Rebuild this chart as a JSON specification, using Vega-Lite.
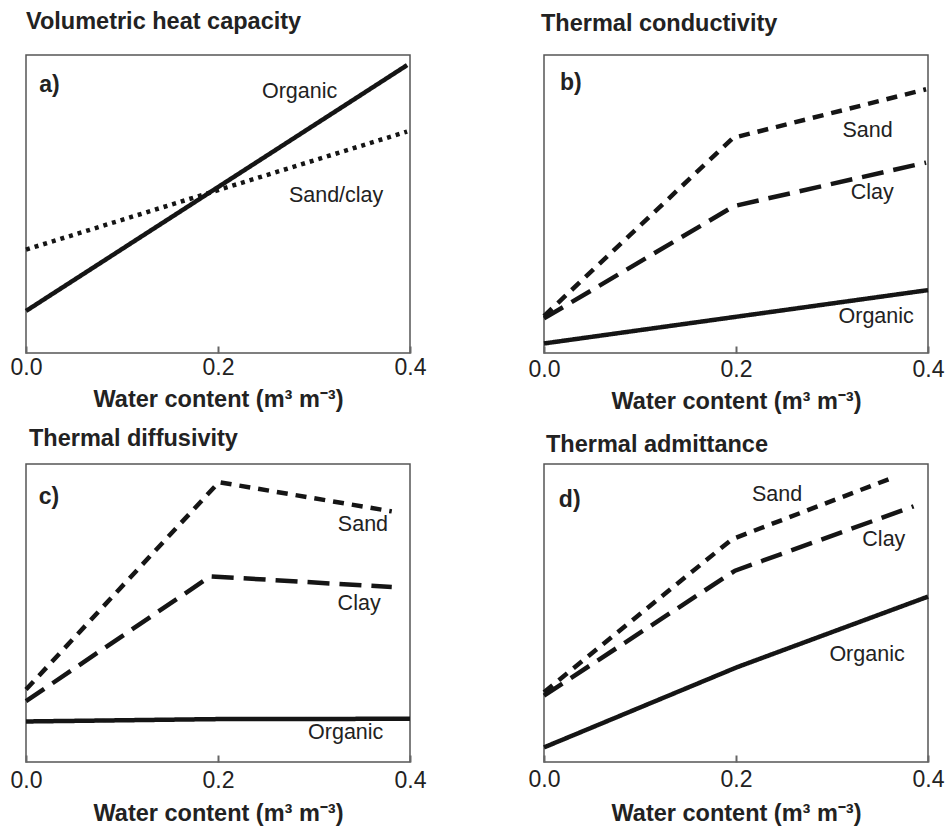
{
  "$schema": "https://vega.github.io/schema/vega-lite/v6.json",
  "background": "white",
  "padding": {"left": 9, "top": 8, "right": 0, "bottom": 0},
  "datasets": {
    "lines": [
      {"panel": "a", "soil": "Organic", "w": 0, "v": 14.1},
      {"panel": "a", "soil": "Organic", "w": 0.397, "v": 96.6},
      {"panel": "a", "soil": "Sand/clay", "w": 0, "v": 34.7},
      {"panel": "a", "soil": "Sand/clay", "w": 0.397, "v": 74.3},
      {"panel": "b", "soil": "Sand", "w": 0, "v": 12.4},
      {"panel": "b", "soil": "Sand", "w": 0.197, "v": 72.2},
      {"panel": "b", "soil": "Sand", "w": 0.398, "v": 88.5},
      {"panel": "b", "soil": "Clay", "w": 0, "v": 11.6},
      {"panel": "b", "soil": "Clay", "w": 0.198, "v": 49.3},
      {"panel": "b", "soil": "Clay", "w": 0.398, "v": 63.9},
      {"panel": "b", "soil": "Organic", "w": 0, "v": 3.2},
      {"panel": "b", "soil": "Organic", "w": 0.4, "v": 21.1},
      {"panel": "c", "soil": "Sand", "w": 0, "v": 24.3},
      {"panel": "c", "soil": "Sand", "w": 0.201, "v": 93.9},
      {"panel": "c", "soil": "Sand", "w": 0.381, "v": 84.1},
      {"panel": "c", "soil": "Clay", "w": 0, "v": 20.4},
      {"panel": "c", "soil": "Clay", "w": 0.192, "v": 62.3},
      {"panel": "c", "soil": "Clay", "w": 0.381, "v": 58.7},
      {"panel": "c", "soil": "Organic", "w": 0, "v": 13.6},
      {"panel": "c", "soil": "Organic", "w": 0.2, "v": 14.4},
      {"panel": "c", "soil": "Organic", "w": 0.4, "v": 14.5},
      {"panel": "d", "soil": "Sand", "w": 0, "v": 23.4},
      {"panel": "d", "soil": "Sand", "w": 0.196, "v": 74.8},
      {"panel": "d", "soil": "Sand", "w": 0.364, "v": 95.5},
      {"panel": "d", "soil": "Clay", "w": 0, "v": 22.3},
      {"panel": "d", "soil": "Clay", "w": 0.199, "v": 64.2},
      {"panel": "d", "soil": "Clay", "w": 0.385, "v": 85.8},
      {"panel": "d", "soil": "Organic", "w": 0, "v": 4.9},
      {"panel": "d", "soil": "Organic", "w": 0.201, "v": 31.8},
      {"panel": "d", "soil": "Organic", "w": 0.4, "v": 55.5}
    ],
    "labels": [
      {"panel": "a", "kind": "curve", "label": "Organic", "w": 0.285, "v": 87.6},
      {"panel": "a", "kind": "curve", "label": "Sand/clay", "w": 0.323, "v": 52.7},
      {"panel": "a", "kind": "letter", "label": "a)", "w": 0.0245, "v": 90},
      {"panel": "b", "kind": "curve", "label": "Sand", "w": 0.337, "v": 74.5},
      {"panel": "b", "kind": "curve", "label": "Clay", "w": 0.342, "v": 53.8},
      {"panel": "b", "kind": "curve", "label": "Organic", "w": 0.346, "v": 12.1},
      {"panel": "b", "kind": "letter", "label": "b)", "w": 0.028, "v": 90.5},
      {"panel": "c", "kind": "curve", "label": "Sand", "w": 0.351, "v": 79.4},
      {"panel": "c", "kind": "curve", "label": "Clay", "w": 0.347, "v": 53},
      {"panel": "c", "kind": "curve", "label": "Organic", "w": 0.333, "v": 9.7},
      {"panel": "c", "kind": "letter", "label": "c)", "w": 0.024, "v": 89},
      {"panel": "d", "kind": "curve", "label": "Sand", "w": 0.2427, "v": 89.6},
      {"panel": "d", "kind": "curve", "label": "Clay", "w": 0.354, "v": 74.6},
      {"panel": "d", "kind": "curve", "label": "Organic", "w": 0.3365, "v": 35.9},
      {"panel": "d", "kind": "letter", "label": "d)", "w": 0.0268, "v": 87.9}
    ]
  },
  "columns": 2,
  "spacing": {"row": 111, "column": 134},
  "bounds": "flush",
  "concat": [
    {
      "width": 384, "height": 298,
      "title": {"text": "Volumetric heat capacity", "offset": 22},
      "layer": [
        {"data": {"name": "lines"}, "transform": [{"filter": "datum.panel === 'a'"}],
         "mark": {"type": "line", "strokeWidth": 4.5, "color": "#151515"},
         "encoding": {
           "x": {"field": "w", "type": "quantitative", "scale": {"domain": [0, 0.4]}, "axis": {"values": [0, 0.2, 0.4], "format": ".1f", "title": "Water content (m³ m⁻³)", "labelPadding": 10, "titlePadding": 8}},
           "y": {"field": "v", "type": "quantitative", "scale": {"domain": [0, 100]}, "axis": null},
           "strokeDash": {"field": "soil", "type": "nominal", "scale": {"domain": ["Organic", "Sand", "Clay", "Sand/clay"], "range": [[1, 0], [11, 8], [22, 10], [4, 5]]}, "legend": null}
         }},
        {"data": {"name": "labels"}, "transform": [{"filter": "datum.panel === 'a' && datum.kind === 'curve'"}],
         "mark": {"type": "text", "fontSize": 21.5, "color": "#222"},
         "encoding": {"x": {"field": "w", "type": "quantitative"}, "y": {"field": "v", "type": "quantitative"}, "text": {"field": "label"}}},
        {"data": {"name": "labels"}, "transform": [{"filter": "datum.panel === 'a' && datum.kind === 'letter'"}],
         "mark": {"type": "text", "fontSize": 23, "fontWeight": "bold", "color": "#222"},
         "encoding": {"x": {"field": "w", "type": "quantitative"}, "y": {"field": "v", "type": "quantitative"}, "text": {"field": "label"}}}
      ]
    },
    {
      "width": 384, "height": 298,
      "title": {"text": "Thermal conductivity", "offset": 20, "dx": -3},
      "layer": [
        {"data": {"name": "lines"}, "transform": [{"filter": "datum.panel === 'b'"}],
         "mark": {"type": "line", "strokeWidth": 4.5, "color": "#151515"},
         "encoding": {
           "x": {"field": "w", "type": "quantitative", "scale": {"domain": [0, 0.4]}, "axis": {"values": [0, 0.2, 0.4], "format": ".1f", "title": "Water content (m³ m⁻³)", "labelPadding": 12, "titlePadding": 8}},
           "y": {"field": "v", "type": "quantitative", "scale": {"domain": [0, 100]}, "axis": null},
           "strokeDash": {"field": "soil", "type": "nominal", "scale": {"domain": ["Organic", "Sand", "Clay", "Sand/clay"], "range": [[1, 0], [11, 8], [22, 10], [4, 5]]}, "legend": null}
         }},
        {"data": {"name": "labels"}, "transform": [{"filter": "datum.panel === 'b' && datum.kind === 'curve'"}],
         "mark": {"type": "text", "fontSize": 21.5, "color": "#222"},
         "encoding": {"x": {"field": "w", "type": "quantitative"}, "y": {"field": "v", "type": "quantitative"}, "text": {"field": "label"}}},
        {"data": {"name": "labels"}, "transform": [{"filter": "datum.panel === 'b' && datum.kind === 'letter'"}],
         "mark": {"type": "text", "fontSize": 23, "fontWeight": "bold", "color": "#222"},
         "encoding": {"x": {"field": "w", "type": "quantitative"}, "y": {"field": "v", "type": "quantitative"}, "text": {"field": "label"}}}
      ]
    },
    {
      "width": 384, "height": 298,
      "title": {"text": "Thermal diffusivity", "offset": 14, "dx": 3},
      "layer": [
        {"data": {"name": "lines"}, "transform": [{"filter": "datum.panel === 'c'"}],
         "mark": {"type": "line", "strokeWidth": 4.5, "color": "#151515"},
         "encoding": {
           "x": {"field": "w", "type": "quantitative", "scale": {"domain": [0, 0.4]}, "axis": {"values": [0, 0.2, 0.4], "format": ".1f", "title": "Water content (m³ m⁻³)", "labelPadding": 14, "titlePadding": 9}},
           "y": {"field": "v", "type": "quantitative", "scale": {"domain": [0, 100]}, "axis": null},
           "strokeDash": {"field": "soil", "type": "nominal", "scale": {"domain": ["Organic", "Sand", "Clay", "Sand/clay"], "range": [[1, 0], [11, 8], [22, 10], [4, 5]]}, "legend": null}
         }},
        {"data": {"name": "labels"}, "transform": [{"filter": "datum.panel === 'c' && datum.kind === 'curve'"}],
         "mark": {"type": "text", "fontSize": 21.5, "color": "#222"},
         "encoding": {"x": {"field": "w", "type": "quantitative"}, "y": {"field": "v", "type": "quantitative"}, "text": {"field": "label"}}},
        {"data": {"name": "labels"}, "transform": [{"filter": "datum.panel === 'c' && datum.kind === 'letter'"}],
         "mark": {"type": "text", "fontSize": 23, "fontWeight": "bold", "color": "#222"},
         "encoding": {"x": {"field": "w", "type": "quantitative"}, "y": {"field": "v", "type": "quantitative"}, "text": {"field": "label"}}}
      ]
    },
    {
      "width": 384, "height": 298,
      "title": {"text": "Thermal admittance", "offset": 8, "dx": 2},
      "layer": [
        {"data": {"name": "lines"}, "transform": [{"filter": "datum.panel === 'd'"}],
         "mark": {"type": "line", "strokeWidth": 4.5, "color": "#151515"},
         "encoding": {
           "x": {"field": "w", "type": "quantitative", "scale": {"domain": [0, 0.4]}, "axis": {"values": [0, 0.2, 0.4], "format": ".1f", "title": "Water content (m³ m⁻³)", "labelPadding": 13, "titlePadding": 10}},
           "y": {"field": "v", "type": "quantitative", "scale": {"domain": [0, 100]}, "axis": null},
           "strokeDash": {"field": "soil", "type": "nominal", "scale": {"domain": ["Organic", "Sand", "Clay", "Sand/clay"], "range": [[1, 0], [11, 8], [22, 10], [4, 5]]}, "legend": null}
         }},
        {"data": {"name": "labels"}, "transform": [{"filter": "datum.panel === 'd' && datum.kind === 'curve'"}],
         "mark": {"type": "text", "fontSize": 21.5, "color": "#222"},
         "encoding": {"x": {"field": "w", "type": "quantitative"}, "y": {"field": "v", "type": "quantitative"}, "text": {"field": "label"}}},
        {"data": {"name": "labels"}, "transform": [{"filter": "datum.panel === 'd' && datum.kind === 'letter'"}],
         "mark": {"type": "text", "fontSize": 23, "fontWeight": "bold", "color": "#222"},
         "encoding": {"x": {"field": "w", "type": "quantitative"}, "y": {"field": "v", "type": "quantitative"}, "text": {"field": "label"}}}
      ]
    }
  ],
  "config": {
    "font": "Liberation Sans",
    "view": {"stroke": "#555", "strokeWidth": 1.5},
    "axisX": {
      "domain": false, "grid": false, "labelFlush": false,
      "tickSize": -7, "tickWidth": 2, "tickColor": "#666",
      "labelFontSize": 23, "labelColor": "#222", "labelFont": "Liberation Sans",
      "titleFontSize": 23.5, "titleFont": "Liberation Sans", "titleFontWeight": "bold", "titleColor": "#222"
    },
    "title": {"anchor": "start", "frame": "group", "fontSize": 23.5, "fontWeight": "bold", "font": "Liberation Sans", "color": "#222"},
    "text": {"font": "Liberation Sans", "align": "center", "baseline": "middle"}
  }
}
